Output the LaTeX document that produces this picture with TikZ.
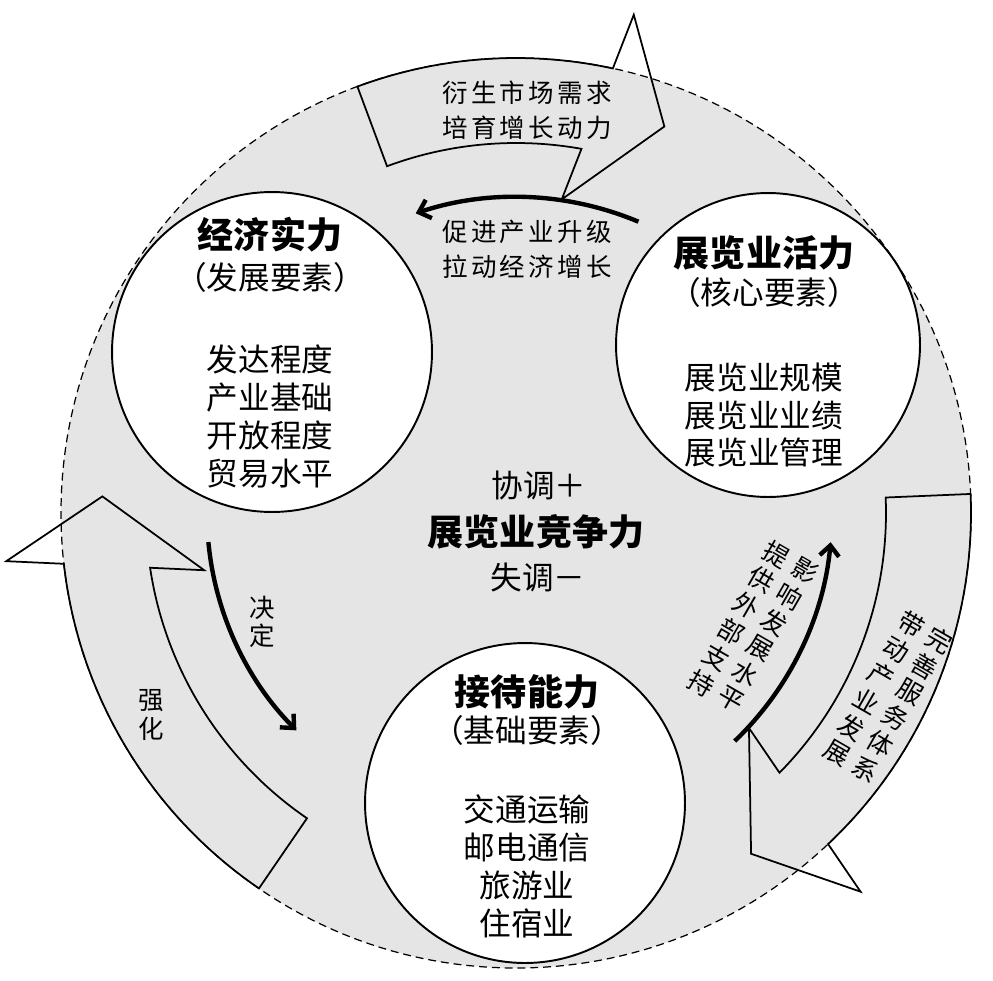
\documentclass[tikz,border=0pt]{standalone}
\usepackage{fontspec}
\setmainfont{Noto Sans CJK SC}
\usetikzlibrary{calc,arrows.meta}
\newcommand{\g}{\kern1.9pt}
\newcommand{\vcol}[1]{\begin{tabular}[t]{@{}c@{}}#1\end{tabular}}
\newcommand{\twocol}[2]{\begin{tabular}{@{}c@{\hspace{4.2pt}}c@{}}\vcol{#1}&\vcol{#2}\end{tabular}}
\newcommand{\wideArrow}[2]{%
  \draw[widearrow] ($(C)+(#1:455)$) arc[start angle=#1, end angle={#2+3.99}, radius=455]
    -- ($(C)+({#2+5}:512)$) -- ($(C)+({#2+12.7}:414)$) -- ($(C)+(#2:317)$)
    -- ($(C)+({#2+1.89}:370)$) arc[start angle={#2+1.89}, end angle=#1, radius=370] -- cycle;}
\begin{document}
\begin{tikzpicture}[x=0.02cm, y=-0.02cm,
  bigcirc/.style={fill=black!10, draw, line width=0.7pt, dash pattern=on 4.5pt off 2.8pt},
  widearrow/.style={draw, line width=1pt, line join=miter},
  elem/.style={circle, draw, fill=white, line width=1.1pt, inner sep=0pt},
  thinarrow/.style={line width=2.5pt, -{Straight Barb[length=6pt,width=11pt]}},
  ttl/.style={font=\fontsize{20.5pt}{24pt}\selectfont\bfseries},
  body/.style={font=\fontsize{18pt}{21.6pt}\selectfont, align=center},
  lab/.style={font=\fontsize{14.5pt}{19.8pt}\selectfont, align=center},
  vlab/.style={font=\fontsize{14.5pt}{16.3pt}\selectfont, align=center, inner sep=0pt}]
\useasboundingbox (0,0) rectangle (993,980);
\coordinate (C) at (516,513);
\fill[white] (0,0) rectangle (993,980);
\draw[bigcirc] (C) circle[radius=455];
% wide hollow arrows
\wideArrow{-110.4}{-81.7}
\wideArrow{-2.4}{42.7}
\wideArrow{124.4}{169.6}
% element circles
\node[elem, minimum size=6.4cm] (econ) at (272,352) {};
\node[elem, minimum size=6.08cm] (expo) at (768,345) {};
\node[elem, minimum size=6.4cm] (recv) at (525,803) {};
% thin arrows
\draw[thinarrow] ($(C)+(-67.2:316)$) arc[start angle=-67.2, end angle=-108.5, radius=316];
\draw[thinarrow] ($(C)+(174.6:309)$) arc[start angle=174.6, end angle=135.3, radius=309];
\draw[thinarrow] ($(C)+(46.2:316)$) arc[start angle=46.2, end angle=5.3, radius=316];
% circle texts
\node[ttl] (econT) at (270,235) {经济实力};
\node[body] (econP) at (270,277) {（发展要素）};
\node[body] (econB) at (270,416.5) {发达程度\\产业基础\\开放程度\\贸易水平};
\node[ttl] (expoT) at (764,253) {展览业活力};
\node[body] (expoP) at (764,292) {（核心要素）};
\node[body] (expoB) at (764,415) {展览业规模\\展览业业绩\\展览业管理};
\node[ttl] (recvT) at (527,692) {接待能力};
\node[body] (recvP) at (527,730) {（基础要素）};
\node[body] (recvB) at (527,866) {交通运输\\邮电通信\\旅游业\\住宿业};
% centre
\node[body] (plus) at (539,485) {协调＋};
\node[ttl] (comp) at (536,532) {展览业竞争力};
\node[body] (minus) at (538,577) {失调－};
% arrow labels
\node[lab] (l1) at (527,110.5) {衍\g 生\g 市\g 场\g 需\g 求\\培\g 育\g 增\g 长\g 动\g 力};
\node[lab] (l2) at (527,249.5) {促\g 进\g 产\g 业\g 升\g 级\\拉\g 动\g 经\g 济\g 增\g 长};
\node[vlab] (l3) at (262,622) {决\\定};
\node[vlab] (l4) at (151,715) {强\\化};
\node[vlab, rotate=-30] (l5) at (751.5,630) {\twocol{提\\供\\外\\部\\支\\持}{影\\响\\发\\展\\水\\平}};
\node[vlab, rotate=-30] (l7) at (886.5,699.5) {\twocol{带\\动\\产\\业\\发\\展}{完\\善\\服\\务\\体\\系}};
\end{tikzpicture}
\end{document}
